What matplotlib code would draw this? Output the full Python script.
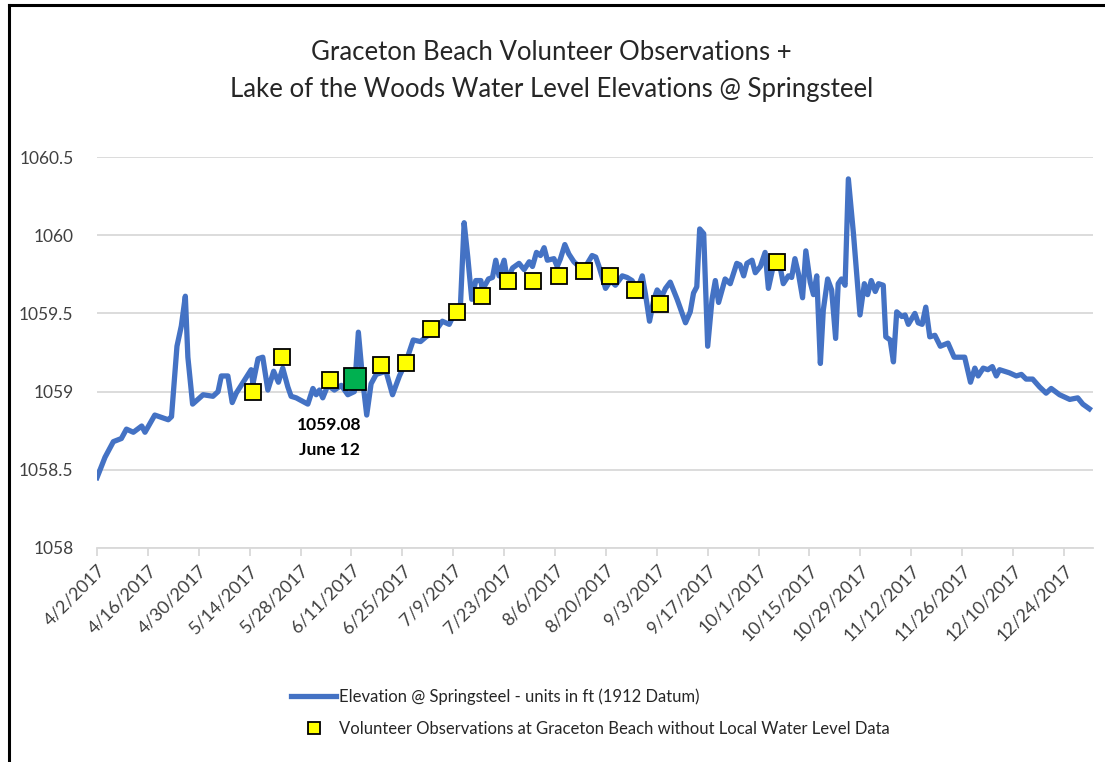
import datetime as dt
import matplotlib
matplotlib.use("Agg")
import matplotlib.pyplot as plt
from matplotlib.lines import Line2D

plt.rcParams['font.family'] = ['Lato', 'DejaVu Sans']

start = dt.datetime(2017, 4, 2)

# daily elevation (days after 4/2/2017, ft)
elev_day = [0.0, 2.2, 4.5, 6.7, 8.1, 10.0, 12.3, 13.2, 15.9, 19.6, 20.5, 22.0, 23.2, 24.3, 25.0,
            26.3, 29.2, 31.9, 33.3, 34.2, 36.0, 37.2, 38.3, 42.4, 42.9, 44.3, 45.6, 47.0, 48.6,
            49.9, 51.1, 52.5, 53.4, 54.8, 58.0, 59.4, 60.3, 61.2, 62.1, 63.5, 65.3, 67.2, 69.0,
            70.8, 71.9, 73.1, 74.2, 75.4, 76.8, 79.5, 81.3, 83.2, 85.0, 87.0, 89.0, 90.5, 93.2,
            95.0, 96.9, 98.3, 100.0, 101.0, 102.0, 103.1, 104.2, 105.6, 106.0, 107.7, 108.8,
            109.7, 110.6, 112.0, 112.9, 114.3, 116.1, 117.5, 118.9, 119.8, 120.9, 122.0, 123.0,
            123.9, 125.7, 126.6, 127.5, 128.7, 129.8, 131.2, 132.6, 134.4, 136.2, 137.2, 138.1,
            139.9, 141.3, 142.6, 144.5, 145.8, 147.2, 148.6, 150.0, 150.9, 152.0, 153.2, 154.1,
            155.4, 156.4, 157.7, 159.6, 161.9, 163.2, 164.1, 165.0, 165.8, 166.9, 168.0, 169.2,
            170.1, 171.0, 172.8, 174.2, 176.0, 176.9, 177.9, 178.8, 180.2, 181.1, 182.5, 183.8,
            184.7, 186.1, 187.9, 188.8, 190.2, 191.1, 192.0, 193.0, 194.1, 195.0, 196.2, 197.1,
            198.0, 199.0, 199.8, 201.0, 202.1, 203.2, 203.9, 204.8, 205.8, 206.7, 208.1, 209.9,
            211.1, 212.0, 213.0, 214.1, 215.0, 216.3, 217.0, 218.2, 219.1, 220.0, 221.4, 222.3,
            223.2, 225.0, 225.9, 227.0, 228.0, 229.1, 230.5, 232.0, 234.1, 235.8, 238.7, 240.3,
            241.5, 242.4, 243.8, 245.1, 246.3, 247.4, 248.3, 251.0, 252.9, 254.3, 255.6, 257.4,
            259.3, 261.1, 262.5, 264.8, 267.6, 269.8, 271.2, 273.0]
elev_ft = [1058.45, 1058.58, 1058.68, 1058.70, 1058.76, 1058.74, 1058.78, 1058.74, 1058.85, 1058.82,
           1058.84, 1059.29, 1059.42, 1059.61, 1059.22, 1058.92, 1058.98, 1058.97, 1059.00, 1059.10,
           1059.10, 1058.93, 1058.99, 1059.14, 1059.05, 1059.21, 1059.22, 1059.01, 1059.13, 1059.06,
           1059.15, 1059.03, 1058.97, 1058.96, 1058.92, 1059.02, 1058.98, 1059.01, 1058.96, 1059.04,
           1059.01, 1059.04, 1058.98, 1059.00, 1059.38, 1059.07, 1058.85, 1059.05, 1059.11, 1059.13,
           1058.98, 1059.10, 1059.19, 1059.33, 1059.32, 1059.35, 1059.39, 1059.45, 1059.43, 1059.50,
           1059.56, 1060.08, 1059.86, 1059.59, 1059.71, 1059.71, 1059.65, 1059.72, 1059.73, 1059.84,
           1059.74, 1059.84, 1059.71, 1059.79, 1059.82, 1059.78, 1059.83, 1059.80, 1059.89, 1059.87,
           1059.92, 1059.84, 1059.85, 1059.80, 1059.85, 1059.94, 1059.88, 1059.83, 1059.80, 1059.80,
           1059.87, 1059.86, 1059.80, 1059.66, 1059.71, 1059.68, 1059.74, 1059.73, 1059.71, 1059.65,
           1059.74, 1059.62, 1059.45, 1059.59, 1059.65, 1059.61, 1059.66, 1059.70, 1059.59, 1059.44,
           1059.51, 1059.63, 1059.67, 1060.04, 1060.01, 1059.29, 1059.59, 1059.71, 1059.57, 1059.72,
           1059.69, 1059.82, 1059.81, 1059.74, 1059.82, 1059.84, 1059.76, 1059.80, 1059.89, 1059.66,
           1059.81, 1059.80, 1059.69, 1059.74, 1059.73, 1059.85, 1059.75, 1059.60, 1059.90, 1059.70,
           1059.62, 1059.74, 1059.18, 1059.52, 1059.72, 1059.65, 1059.34, 1059.69, 1059.72, 1059.68,
           1060.36, 1060.01, 1059.49, 1059.69, 1059.62, 1059.71, 1059.64, 1059.69, 1059.68, 1059.35,
           1059.33, 1059.19, 1059.51, 1059.48, 1059.49, 1059.43, 1059.50, 1059.44, 1059.43, 1059.54,
           1059.35, 1059.36, 1059.29, 1059.31, 1059.22, 1059.22, 1059.06, 1059.15, 1059.10, 1059.15,
           1059.14, 1059.16, 1059.10, 1059.14, 1059.12, 1059.10, 1059.11, 1059.08, 1059.08, 1059.03,
           1058.99, 1059.02, 1058.98, 1058.95, 1058.96, 1058.92, 1058.89]

# volunteer observations (no local water level data)
obs_day = [43, 51, 64, 78, 85, 92, 99, 106, 113, 120, 127, 134, 141, 148, 155, 187]
obs_ft = [1059.00, 1059.22, 1059.075, 1059.17, 1059.18, 1059.40, 1059.51, 1059.61, 1059.71,
          1059.71, 1059.74, 1059.77, 1059.74, 1059.65, 1059.56, 1059.83]

# highlighted observation
hl_day = 71
hl_ft = 1059.08
hl_text = "1059.08\nJune 12"

y_ticks = [1058, 1058.5, 1059, 1059.5, 1060, 1060.5]
y_labels = ["1058", "1058.5", "1059", "1059.5", "1060", "1060.5"]

line_label = "Elevation @ Springsteel - units in ft (1912 Datum)"
obs_label = "Volunteer Observations at Graceton Beach without Local Water Level Data"
title = "Graceton Beach Volunteer Observations +\nLake of the Woods Water Level Elevations @ Springsteel"


def to_dates(days):
    return [start + dt.timedelta(days=d) for d in days]


fig = plt.figure(figsize=(11.05, 7.62), dpi=100)
ax = fig.add_axes([97 / 1105, 1 - 548 / 762, (1093 - 97) / 1105, (548 - 157) / 762])

ax.plot(to_dates(elev_day), elev_ft, color="#4472C4", lw=3.8, solid_joinstyle="round", zorder=3)
ax.plot(to_dates(obs_day), obs_ft, ls="none", marker="s", ms=11, mfc="#FFFF00", mec="black",
        mew=1.3, zorder=4)
ax.plot(to_dates([hl_day]), [hl_ft], ls="none", marker="s", ms=16, mfc="#00B050", mec="black",
        mew=1.3, zorder=5)
ax.text(to_dates([hl_day - 7])[0], hl_ft - 0.24, hl_text, ha="center", va="top", fontsize=12.5,
        fontweight="bold", linespacing=1.75, color="black")

ax.set_ylim(1058, 1060.5)
ax.set_yticks(y_ticks)
ax.set_yticklabels(y_labels)
ax.set_xlim(start, start + dt.timedelta(days=274))

tick_dates = [start + dt.timedelta(days=14 * i) for i in range(20)]
ax.set_xticks(tick_dates)
ax.set_xticklabels([f"{d.month}/{d.day}/{d.year}" for d in tick_dates], rotation=45,
                   ha="right", va="top", rotation_mode="anchor")

ax.grid(axis="y", color="#D9D9D9", lw=1.3)
ax.set_axisbelow(True)
for s in ["top", "right", "left"]:
    ax.spines[s].set_visible(False)
ax.spines["bottom"].set_color("#D9D9D9")
ax.spines["bottom"].set_linewidth(1.3)
ax.tick_params(axis="y", length=0, pad=17, labelsize=12.5, labelcolor="#404040")
ax.tick_params(axis="x", length=6, width=1.3, color="#D9D9D9", pad=4, labelsize=13,
               labelcolor="#404040")

fig.text(0.499, 1 - 71 / 762, title, ha="center", va="center", fontsize=18.5, linespacing=1.6,
         color="#262626")

handles = [Line2D([], [], color="#4472C4", lw=3.8),
           Line2D([], [], ls="none", marker="s", ms=9, mfc="#FFFF00", mec="black", mew=1.3)]
fig.legend(handles, [line_label, obs_label], loc="upper left",
           bbox_to_anchor=(276 / 1105, 1 - 673 / 762), frameon=False, fontsize=12,
           handlelength=2.7, handletextpad=0.2, labelspacing=1.0, labelcolor="#262626")

# outer frame like the pasted chart border
fig.add_artist(Line2D([9 / 1105, 9 / 1105], [0, 1 - 5 / 762], color="black", lw=2.2,
                      transform=fig.transFigure))
fig.add_artist(Line2D([9 / 1105, 1], [1 - 5 / 762, 1 - 5 / 762], color="black", lw=2.2,
                      transform=fig.transFigure))

fig.savefig("out.png", dpi=100)
